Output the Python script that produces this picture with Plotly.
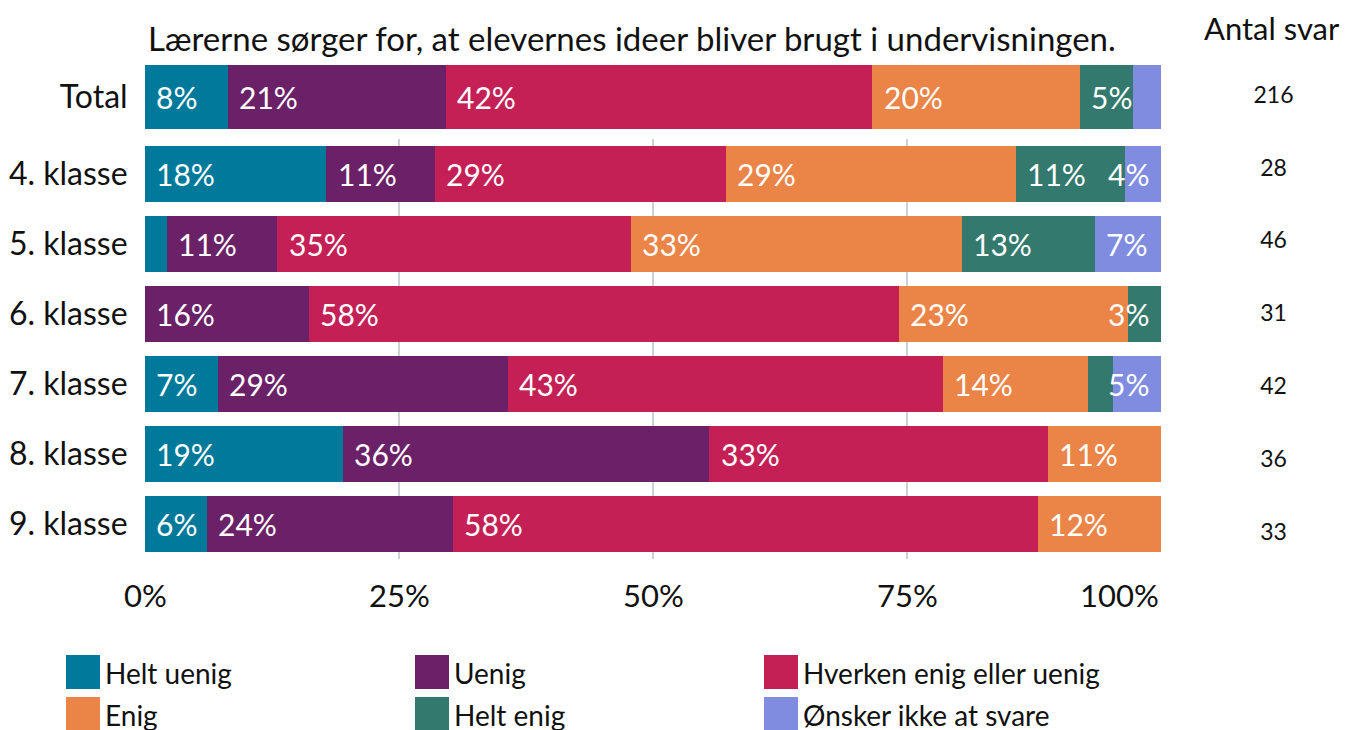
import plotly.graph_objects as go

# Response categories (stack order, left to right) and their colours
categories = ["Helt uenig", "Uenig", "Hverken enig eller uenig", "Enig", "Helt enig", "Ønsker ikke at svare"]
colors = ["#00799A", "#6A2167", "#C42056", "#EA8447", "#33796D", "#7F8CE0"]

# Grade rows
grades = ["4. klasse", "5. klasse", "6. klasse", "7. klasse", "8. klasse", "9. klasse"]

# Share of answers (%) per category, one value per grade
helt_uenig = [17.86, 2.17, 0.00, 7.14, 19.44, 6.06]
uenig = [10.71, 10.87, 16.13, 28.57, 36.11, 24.24]
hverken = [28.57, 34.78, 58.06, 42.86, 33.33, 57.58]
enig = [28.57, 32.61, 22.58, 14.29, 11.11, 12.12]
helt_enig = [10.71, 13.04, 3.23, 2.38, 0.00, 0.00]
onsker = [3.57, 6.52, 0.00, 4.76, 0.00, 0.00]

# Total across all grades, same category order
total_label = "Total"
total_share = [8.2, 21.4, 42.0, 20.4, 5.2, 2.8]

# Number of respondents (Total first, then each grade)
antal_svar = [216, 28, 46, 31, 42, 36, 33]

title_text = "Lærerne sørger for, at elevernes ideer bliver brugt i undervisningen."
count_title = "Antal svar"
tick_vals = [0, 25, 50, 75, 100]
tick_text = ["0%", "25%", "50%", "75%", "100%"]

W, H = 1347, 730
FONT = "Lato"
MIN_LABEL = 3.0
INK = "#111111"


def fx(px):
    return px / W


def fy(px):
    return 1 - px / H


series = [helt_uenig, uenig, hverken, enig, helt_enig, onsker]

fig = go.Figure()

# Grade panel: one stacked trace per category
for name, col, vals in zip(categories, colors, series):
    fig.add_trace(go.Bar(
        y=grades, x=vals, name=name, orientation="h",
        marker=dict(color=col, line=dict(width=0)),
        width=0.8, xaxis="x", yaxis="y", showlegend=False, hoverinfo="skip",
    ))

# Total panel
for name, col, val in zip(categories, colors, total_share):
    fig.add_trace(go.Bar(
        y=[total_label], x=[val], name=name, orientation="h",
        marker=dict(color=col, line=dict(width=0)),
        width=1.0, xaxis="x2", yaxis="y2", showlegend=False, hoverinfo="skip",
    ))

# Respondent counts column
fig.add_trace(go.Scatter(
    x=[0.5] * len(antal_svar), y=[total_label] + grades,
    text=[str(n) for n in antal_svar], mode="text",
    textfont=dict(family=FONT, size=23, color=INK),
    xaxis="x3", yaxis="y3", showlegend=False, hoverinfo="skip",
))

annotations = []


def add_labels(row_name, values, xref, yref):
    start = 0.0
    for v in values:
        if v >= MIN_LABEL:
            annotations.append(dict(
                x=min(start + 0.9, 94.6), y=row_name, xref=xref, yref=yref,
                text=f"{round(v)}%", showarrow=False, xanchor="left", yanchor="middle",
                font=dict(family=FONT, size=30, color="white"),
            ))
        start += v


for i, g in enumerate(grades):
    add_labels(g, [s[i] for s in series], "x", "y")
add_labels(total_label, total_share, "x2", "y2")

# Percent axis labels; the last one is kept inside the panel's right edge
for v, t in zip(tick_vals, tick_text):
    last = v == tick_vals[-1]
    annotations.append(dict(
        x=v, y=fy(595), xref="x", yref="paper", text=t, showarrow=False,
        xanchor="right" if last else "center", yanchor="middle",
        font=dict(family=FONT, size=31, color=INK),
    ))

# Title and column header
annotations.append(dict(
    x=fx(146), y=fy(38), xref="paper", yref="paper", text=title_text,
    showarrow=False, xanchor="left", yanchor="middle",
    font=dict(family=FONT, size=33, color=INK),
))
annotations.append(dict(
    x=fx(1272), y=fy(28), xref="paper", yref="paper", text=count_title,
    showarrow=False, xanchor="center", yanchor="middle",
    font=dict(family=FONT, size=31, color=INK),
))

# Legend: three columns, two rows of colour swatches
shapes = []
col_x = [66, 415, 764]
row_y = [655, 697]
for k, (name, col) in enumerate(zip(categories, colors)):
    r, c = divmod(k, 3)
    x0, y0 = col_x[c], row_y[r]
    shapes.append(dict(
        type="rect", xref="paper", yref="paper",
        x0=fx(x0), x1=fx(x0 + 34), y0=fy(y0 + 34), y1=fy(y0),
        fillcolor=col, line=dict(width=0), layer="above",
    ))
    annotations.append(dict(
        x=fx(x0 + 37), y=fy(y0 + 18), xref="paper", yref="paper", text=name,
        showarrow=False, xanchor="left", yanchor="middle",
        font=dict(family=FONT, size=28, color=INK),
    ))

grid_col = "#CBD1D7"

fig.update_layout(
    width=W, height=H, template="none",
    margin=dict(l=0, r=0, t=0, b=0),
    paper_bgcolor="white", plot_bgcolor="rgba(0,0,0,0)",
    barmode="stack", showlegend=False,
    font=dict(family=FONT, color=INK),
    xaxis=dict(
        domain=[fx(145), fx(1161)], range=[0, 100], anchor="y",
        tickvals=tick_vals, showticklabels=False, ticks="",
        showgrid=True, gridcolor=grid_col, gridwidth=1.5,
        zeroline=False, showline=False, automargin=False, fixedrange=True,
    ),
    yaxis=dict(
        domain=[fy(559), fy(139)], anchor="x", type="category",
        categoryorder="array", categoryarray=grades, range=[5.5, -0.5],
        tickfont=dict(family=FONT, size=32, color=INK),
        ticks="outside", ticklen=10, tickcolor="rgba(0,0,0,0)",
        showgrid=False, zeroline=False, showline=False, automargin=False,
    ),
    xaxis2=dict(
        domain=[fx(145), fx(1161)], range=[0, 100], anchor="y2",
        showticklabels=False, showgrid=False, zeroline=False, automargin=False,
    ),
    yaxis2=dict(
        domain=[fy(129), fy(65)], anchor="x2", type="category",
        categoryorder="array", categoryarray=[total_label], range=[-0.5, 0.5],
        tickfont=dict(family=FONT, size=32, color=INK),
        ticks="outside", ticklen=10, tickcolor="rgba(0,0,0,0)",
        showgrid=False, zeroline=False, showline=False, automargin=False,
    ),
    xaxis3=dict(
        domain=[fx(1200), fx(1347)], range=[0, 1], anchor="y3",
        visible=False,
    ),
    yaxis3=dict(
        domain=[fy(570.4), fy(60.6)], anchor="x3", type="category",
        categoryorder="array", categoryarray=[total_label] + grades, range=[6.5, -0.5],
        visible=False,
    ),
    annotations=annotations,
    shapes=shapes,
)

fig.write_html("out.html")
